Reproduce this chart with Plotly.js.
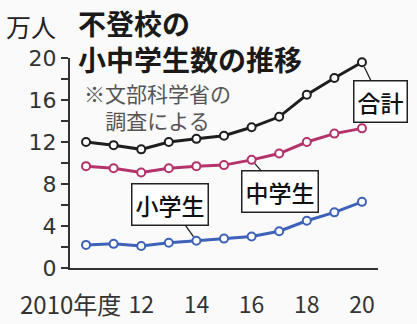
<!DOCTYPE html>
<html><head><meta charset="utf-8">
<script src="https://cdn.plot.ly/plotly-3.0.1.min.js"></script>
<style>html,body{margin:0;padding:0;background:#fafafa;}</style>
</head><body><div id="chart" style="width:417px;height:324px;"></div>
<script>
const years = [2010,2011,2012,2013,2014,2015,2016,2017,2018,2019,2020];
const total = [12.0,11.7,11.3,12.0,12.3,12.6,13.4,14.4,16.5,18.1,19.6];
const junior = [9.7,9.5,9.1,9.5,9.7,9.8,10.3,10.9,12.0,12.8,13.3];
const elementary = [2.2,2.3,2.1,2.4,2.6,2.8,3.0,3.5,4.5,5.3,6.3];
const xTickVals = [2012,2014,2016,2018,2020];
const xTickText = ['12','14','16','18','20'];
const firstYearLabel = '2010年度';
const seriesNames = ['合計','中学生','小学生'];
const titleText = '不登校の<br>小中学生数の推移';
const unitText = '万人';
const noteText = '※文部科学省の<br>調査による';

const L = 70, R = 39, T = 58, B = 56, W = 417, H = 324;
const pw = W - L - R, ph = H - T - B;
const px = x => (x - L) / pw;
const py = y => (H - B - y) / ph;

const jp = '"Noto Sans CJK JP", "Noto Sans", sans-serif';
const cols = ['#1e1e1e', '#b5336b', '#3d62b8'];

function line(y, c) {
  return {x: years, y: y, mode: 'lines+markers', type: 'scatter', cliponaxis: false,
    line: {color: c, width: 3}, marker: {size: 8, color: '#ffffff', line: {color: c, width: 2}},
    hoverinfo: 'skip'};
}
const traces = [line(total, cols[0]), line(junior, cols[1]), line(elementary, cols[2]),
  {x: years, y: years.map(() => -1.6), mode: 'markers', type: 'scatter', cliponaxis: false,
   marker: {size: 5, color: '#8a8a8a'}, hoverinfo: 'skip'}];

function box(text, xi, arr, ax, ay) {
  return {x: years[xi], y: arr[xi], xref: 'x', yref: 'y', text: text, showarrow: true,
    ax: ax, ay: ay, arrowhead: 0, arrowwidth: 1.3, arrowcolor: '#222', standoff: 5,
    bgcolor: '#ffffff', bordercolor: '#222', borderwidth: 1.5, borderpad: 3,
    font: {family: jp, size: 23, color: '#111', weight: 500}};
}

const layout = {
  width: W, height: H, margin: {l: L, r: R, t: T, b: B},
  paper_bgcolor: '#fafafa', plot_bgcolor: '#fafafa', showlegend: false,
  xaxis: {range: [2009.42, 2020.58], showgrid: false, zeroline: false,
    showline: true, linecolor: '#333', linewidth: 2, ticks: '',
    tickmode: 'array', tickvals: xTickVals, ticktext: xTickText,
    ticklabelstandoff: 15,
    tickfont: {family: jp, size: 23, color: '#333'}, fixedrange: true},
  yaxis: {range: [0, 20], showgrid: false, zeroline: false,
    showline: true, linecolor: '#333', linewidth: 2,
    ticks: 'outside', ticklen: 7, tickwidth: 2, tickcolor: '#333',
    tickmode: 'linear', tick0: 0, dtick: 4,
    minor: {dtick: 2, ticks: 'outside', ticklen: 7, tickwidth: 2, tickcolor: '#333'},
    tickfont: {family: '"DejaVu Sans", sans-serif', size: 22, color: '#333'}, fixedrange: true},
  annotations: [
    {xref: 'paper', yref: 'paper', x: px(76), y: py(41), xanchor: 'left', yanchor: 'middle',
     text: titleText, showarrow: false, align: 'left',
     font: {family: jp, size: 28, color: '#1a1a1a', weight: 'bold'}},
    {xref: 'paper', yref: 'paper', x: px(4), y: py(26), xanchor: 'left', yanchor: 'middle',
     text: unitText, showarrow: false, font: {family: jp, size: 25, color: '#222'}},
    {xref: 'paper', yref: 'paper', x: px(157), y: py(107), xanchor: 'center', yanchor: 'middle',
     text: noteText, showarrow: false, align: 'center', font: {family: jp, size: 21, color: '#555'}},
    {xref: 'x', yref: 'paper', x: years[0], y: py(303), xanchor: 'right', yanchor: 'middle',
     xshift: 37, text: firstYearLabel, showarrow: false, font: {family: jp, size: 24, color: '#333'}},
    box(seriesNames[0], 10, total, 19, 39),
    box(seriesNames[1], 6, junior, 28, 32),
    box(seriesNames[2], 4, elementary, -26, -36)
  ]
};
Plotly.newPlot('chart', traces, layout, {staticPlot: true, displayModeBar: false});
</script></body></html>
